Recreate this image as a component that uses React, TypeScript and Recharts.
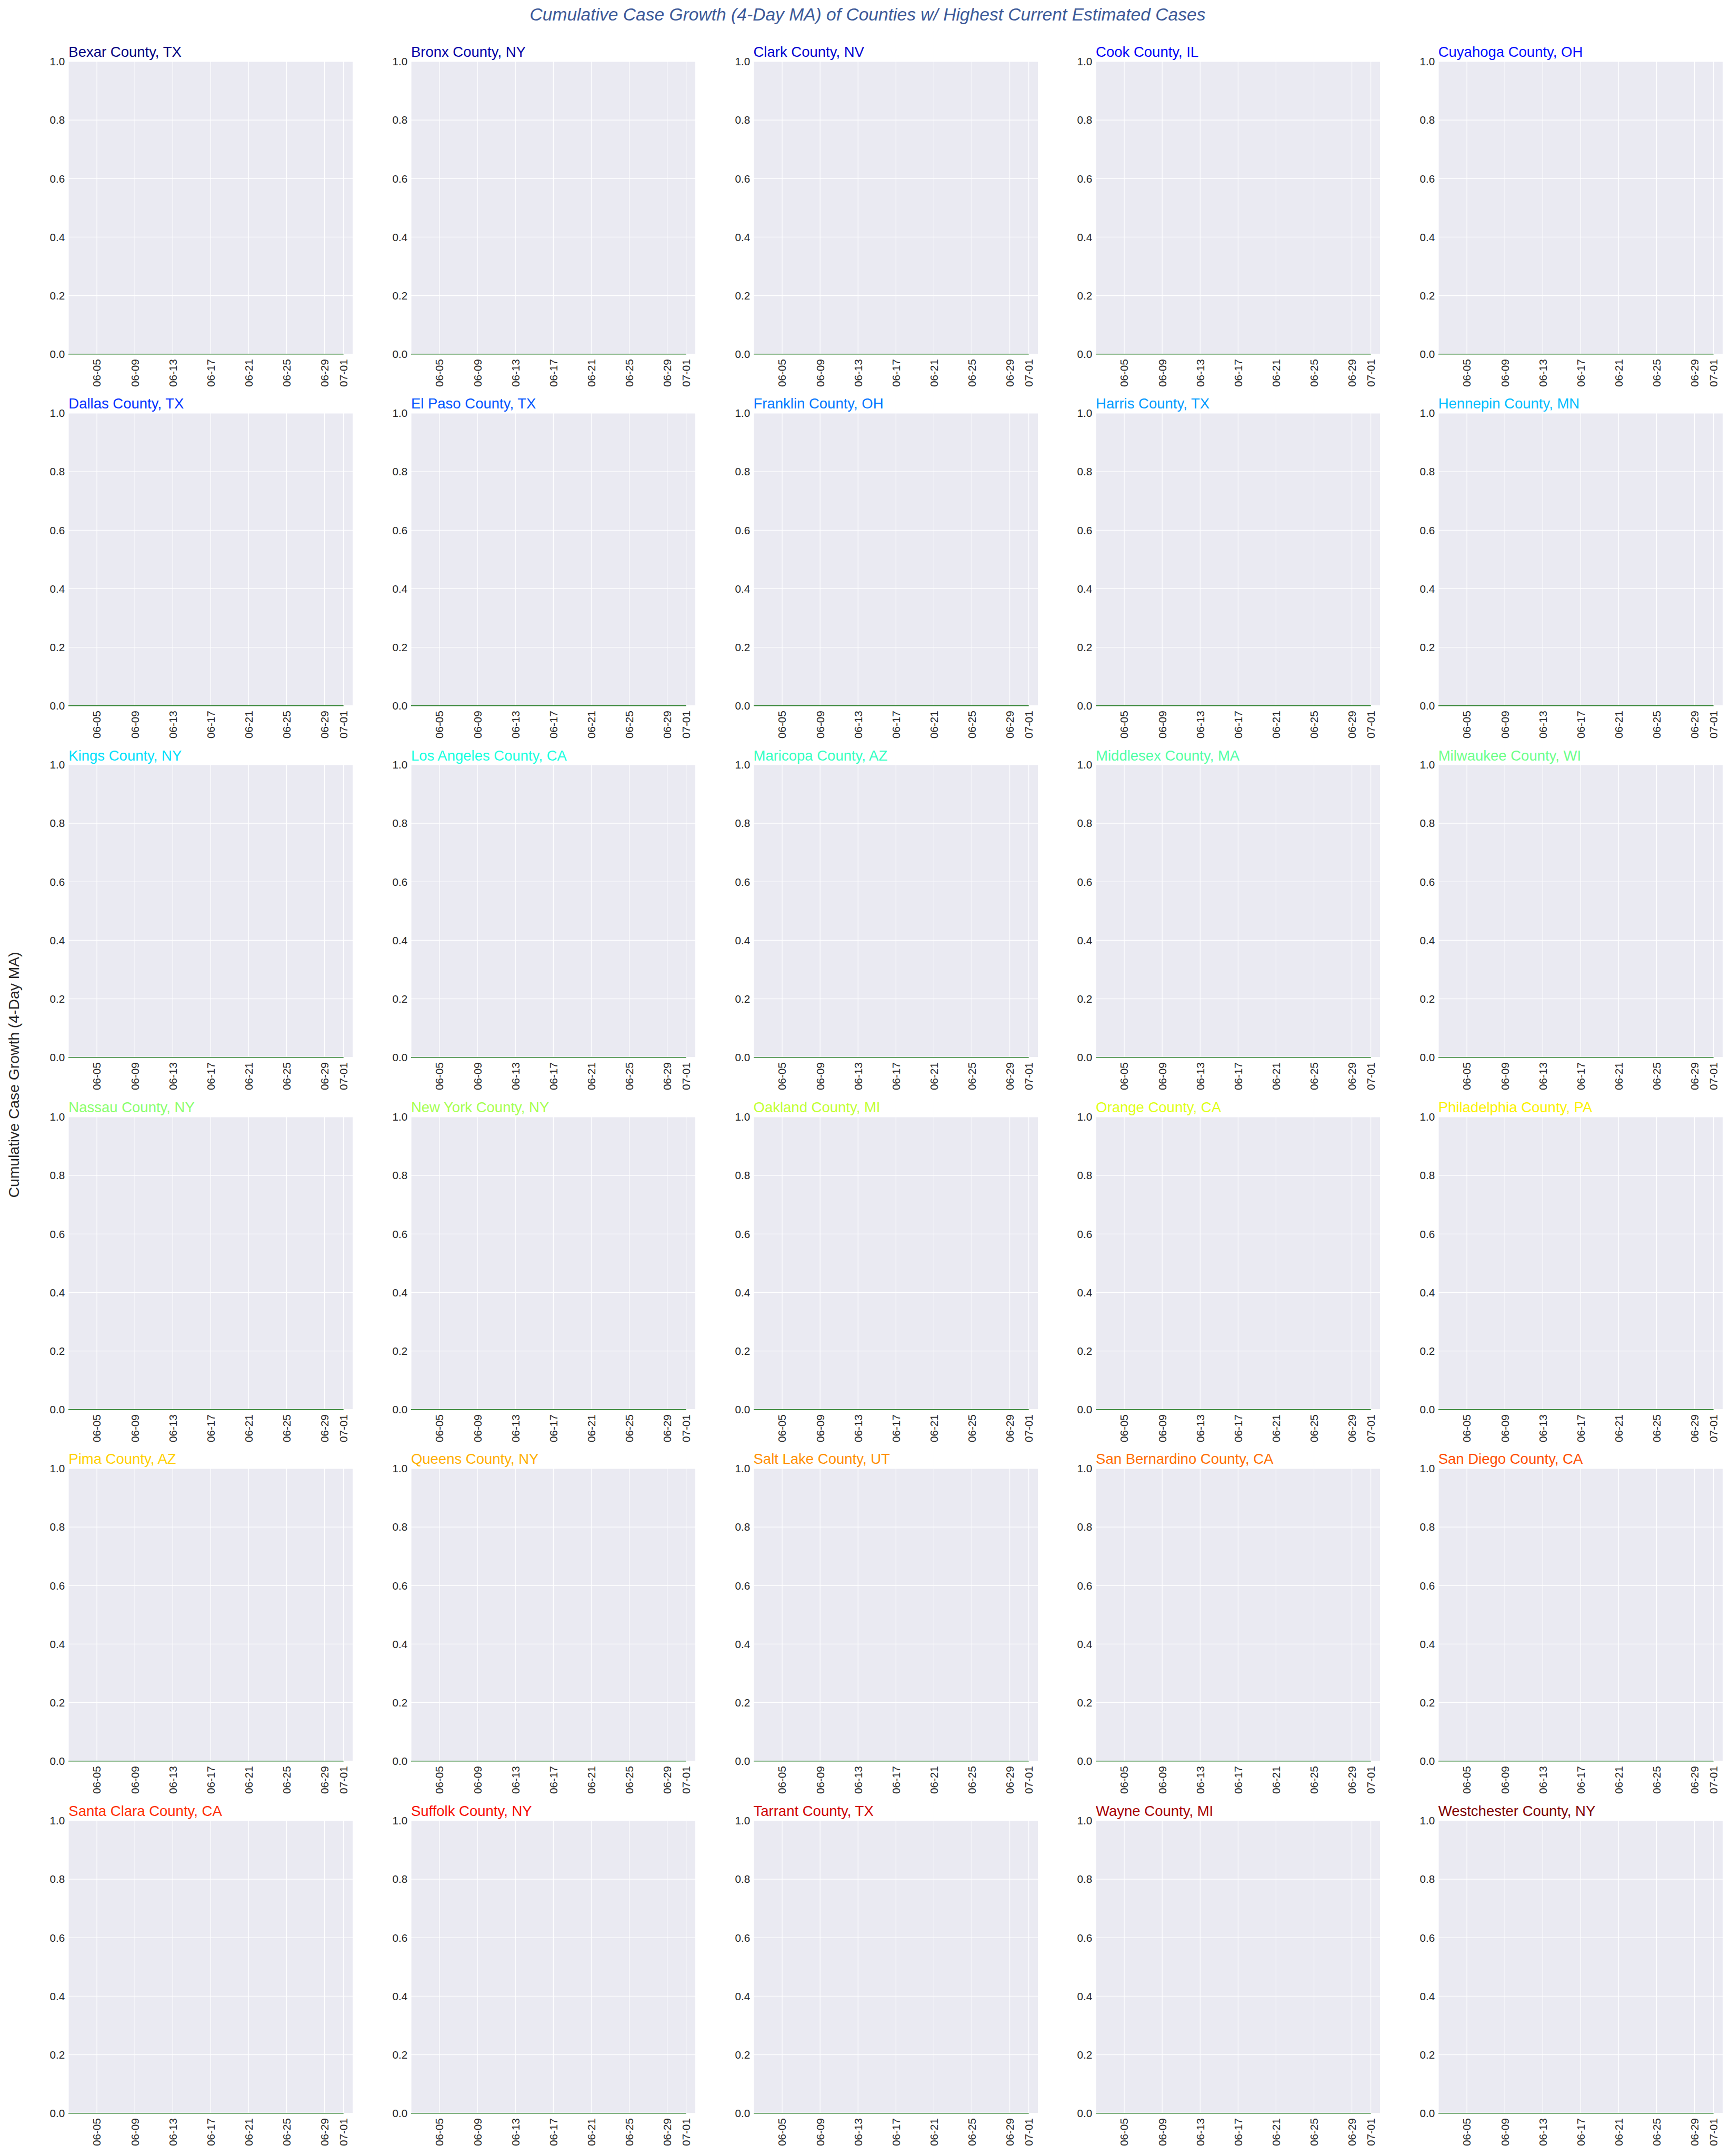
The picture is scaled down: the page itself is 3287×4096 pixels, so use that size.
import React from 'react';
import { LineChart, Line, XAxis, YAxis, CartesianGrid } from 'recharts';

const counties = [
  'Bexar County, TX', 'Bronx County, NY', 'Clark County, NV', 'Cook County, IL', 'Cuyahoga County, OH',
  'Dallas County, TX', 'El Paso County, TX', 'Franklin County, OH', 'Harris County, TX', 'Hennepin County, MN',
  'Kings County, NY', 'Los Angeles County, CA', 'Maricopa County, AZ', 'Middlesex County, MA', 'Milwaukee County, WI',
  'Nassau County, NY', 'New York County, NY', 'Oakland County, MI', 'Orange County, CA', 'Philadelphia County, PA',
  'Pima County, AZ', 'Queens County, NY', 'Salt Lake County, UT', 'San Bernardino County, CA', 'San Diego County, CA',
  'Santa Clara County, CA', 'Suffolk County, NY', 'Tarrant County, TX', 'Wayne County, MI', 'Westchester County, NY',
];

// dates shown on the x axis, one per day
const dates = [
  '06-02', '06-03', '06-04', '06-05', '06-06', '06-07', '06-08', '06-09', '06-10', '06-11',
  '06-12', '06-13', '06-14', '06-15', '06-16', '06-17', '06-18', '06-19', '06-20', '06-21',
  '06-22', '06-23', '06-24', '06-25', '06-26', '06-27', '06-28', '06-29', '06-30', '07-01',
];

// cumulative growth (4-day MA) - flat at zero in every panel
const growth = [
  0, 0, 0, 0, 0, 0, 0, 0, 0, 0,
  0, 0, 0, 0, 0, 0, 0, 0, 0, 0,
  0, 0, 0, 0, 0, 0, 0, 0, 0, 0,
];

const xTickDays = [3, 7, 11, 15, 19, 23, 27, 29];
const yTicks = [0, 0.2, 0.4, 0.6, 0.8, 1.0];

const data = dates.map((d, i) => ({ day: i, date: d, value: growth[i] }));

const FONT = '"Liberation Sans", Arial, sans-serif';
const PLOT_W = 540.7;
const PLOT_H = 555.7;
const COL_X0 = 130.3;
const COL_STEP = 650.6;
const ROW_Y0 = 116.6;
const ROW_STEP = 668.4;
const Y_W = 60;
const M_TOP = 20;
const M_RIGHT = 10;
const X_H = 80;

// matplotlib "jet" colormap
const interp = (pts: number[][], t: number) => {
  for (let i = 1; i < pts.length; i++) {
    if (t <= pts[i][0]) {
      const [x0, y0] = pts[i - 1];
      const [x1, y1] = pts[i];
      return y0 + ((t - x0) / (x1 - x0)) * (y1 - y0);
    }
  }
  return pts[pts.length - 1][1];
};
const jet = (t: number) => {
  const r = interp([[0, 0], [0.35, 0], [0.66, 1], [0.89, 1], [1, 0.5]], t);
  const g = interp([[0, 0], [0.125, 0], [0.375, 1], [0.64, 1], [0.91, 0], [1, 0]], t);
  const b = interp([[0, 0.5], [0.11, 1], [0.34, 1], [0.65, 0], [1, 0]], t);
  const h = (v: number) => Math.round(v * 255).toString(16).padStart(2, '0');
  return `#${h(r)}${h(g)}${h(b)}`;
};

const DateTick = (props: any) => {
  const { x, y, payload } = props;
  return (
    <text
      x={0}
      y={0}
      dy="0.358em"
      textAnchor="end"
      transform={`translate(${x},${y + 9.5}) rotate(-90)`}
      fontSize={20.7}
      fontFamily={FONT}
      fill="#262626"
    >
      {dates[payload.value]}
    </text>
  );
};

const Panel = ({ name, index }: { name: string; index: number }) => {
  const col = index % 5;
  const row = Math.floor(index / 5);
  const plotLeft = COL_X0 + col * COL_STEP;
  const plotTop = ROW_Y0 + row * ROW_STEP;
  return (
    <>
      <div
        style={{
          position: 'absolute',
          left: plotLeft,
          top: plotTop - 31.9,
          fontSize: 27.5,
          lineHeight: 1,
          whiteSpace: 'nowrap',
          color: jet(index / (counties.length - 1)),
        }}
      >
        {name}
      </div>
      <div style={{ position: 'absolute', left: plotLeft - Y_W, top: plotTop - M_TOP }}>
        <LineChart
          width={Y_W + PLOT_W + M_RIGHT}
          height={M_TOP + PLOT_H + X_H}
          data={data}
          margin={{ top: M_TOP, right: M_RIGHT, left: 0, bottom: 0 }}
        >
          <CartesianGrid fill="#EAEAF2" fillOpacity={1} stroke="#ffffff" strokeWidth={1.2} />
          <XAxis
            dataKey="day"
            type="number"
            domain={[0, 30]}
            ticks={xTickDays}
            interval={0}
            height={X_H}
            axisLine={false}
            tickLine={false}
            tickSize={0}
            tickMargin={0}
            tick={<DateTick />}
          />
          <YAxis
            type="number"
            domain={[0, 1]}
            ticks={yTicks}
            width={Y_W}
            axisLine={false}
            tickLine={false}
            tickSize={0}
            tickMargin={6.75}
            tickFormatter={(v: number) => v.toFixed(1)}
            tick={{ fontSize: 20.7, fill: '#262626', fontFamily: FONT }}
          />
          <Line
            type="linear"
            dataKey="value"
            stroke="#2a7f2a"
            strokeWidth={1.4}
            dot={false}
            activeDot={false}
            isAnimationActive={false}
          />
        </LineChart>
      </div>
    </>
  );
};

export default function App() {
  return (
    <div
      style={{
        position: 'absolute',
        left: 0,
        top: 0,
        width: 3287,
        height: 4096,
        background: '#ffffff',
        fontFamily: FONT,
        overflow: 'hidden',
      }}
    >
      <div
        style={{
          position: 'absolute',
          left: 5,
          top: 10.6,
          width: 3287,
          textAlign: 'center',
          fontSize: 33.6,
          lineHeight: 1,
          fontStyle: 'italic',
          color: '#3d5a98',
          whiteSpace: 'nowrap',
        }}
      >
        Cumulative Case Growth (4-Day MA) of Counties w/ Highest Current Estimated Cases
      </div>
      <div
        style={{
          position: 'absolute',
          left: 26.2,
          top: 2042,
          transform: 'translate(-50%, -50%) rotate(-90deg)',
          fontSize: 28.3,
          lineHeight: 1,
          color: '#262626',
          whiteSpace: 'nowrap',
        }}
      >
        Cumulative Case Growth (4-Day MA)
      </div>
      {counties.map((c, i) => (
        <Panel key={c} name={c} index={i} />
      ))}
    </div>
  );
}
